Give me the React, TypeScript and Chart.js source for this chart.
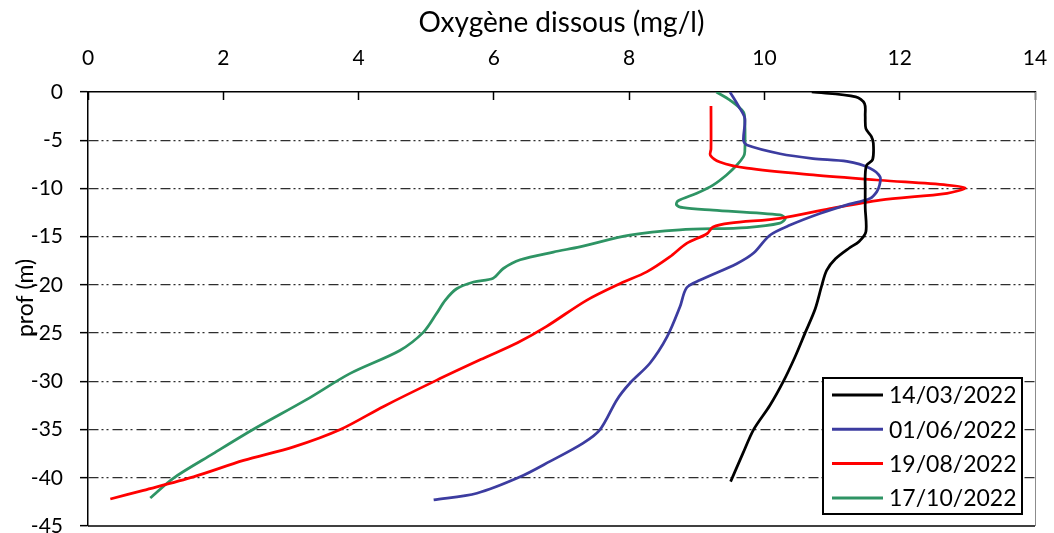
import React, { useEffect, useRef } from "react";
import { Chart, registerables } from "chart.js";

Chart.register(...registerables);

const seriesLabels = ["14/03/2022", "01/06/2022", "19/08/2022", "17/10/2022"];
const seriesColors = ["#000000", "#3c3ca0", "#ff0000", "#2e9464"];

const xTicksMin = 0;
const xTicksMax = 14;
const xStep = 2;
const yMin = -45;
const yMax = 0;
const yStep = 5;

const xTitle = "Oxygène dissous (mg/l)";
const yTitle = "prof (m)";

// 14/03/2022
const o2Mar = [10.7, 11.35, 11.48, 11.49, 11.5, 11.58, 11.61, 11.6, 11.51, 11.49, 11.49, 11.49, 11.5, 11.4, 11.25, 11.05, 10.92, 10.85, 10.75, 10.6, 10.45, 10.28, 10.08, 9.84, 9.68, 9.5];
const depthMar = [0, -0.5, -1.2, -2.5, -3.8, -4.6, -5.3, -7.0, -7.6, -8.6, -10, -12, -14.5, -15.5, -16.2, -17.3, -18.5, -20, -22.5, -25, -27.5, -30, -32.5, -35, -37.5, -40.4];

// 01/06/2022
const o2Jun = [9.49, 9.62, 9.71, 9.69, 9.74, 10.23, 10.72, 11.22, 11.56, 11.71, 11.7, 11.66, 11.56, 11.22, 10.82, 10.38, 10.08, 9.84, 9.59, 9.05, 8.85, 8.75, 8.56, 8.31, 8.01, 7.82, 7.57, 7.32, 6.83, 6.39, 5.75, 5.11];
const depthJun = [0, -1.5, -2.75, -5.0, -5.5, -6.4, -6.9, -7.2, -7.9, -8.8, -9.7, -10.35, -11.05, -11.7, -12.6, -13.8, -14.85, -16.7, -17.8, -19.5, -20.3, -22.3, -25.4, -28.1, -30.2, -31.9, -35.0, -36.4, -38.3, -39.9, -41.6, -42.3];

// 19/08/2022
const o2Aug = [9.21, 9.21, 9.2, 9.34, 9.74, 10.72, 11.71, 12.7, 12.97, 12.7, 11.71, 10.97, 10.23, 9.49, 9.24, 9.15, 8.85, 8.6, 8.26, 7.87, 7.37, 6.78, 6.35, 5.85, 5.15, 4.37, 3.73, 3.04, 2.3, 1.56, 0.82, 0.33];
const depthAug = [-1.45, -5.9, -6.55, -7.25, -7.9, -8.6, -9.15, -9.65, -9.95, -10.5, -11.2, -12.1, -13.1, -13.6, -14.0, -14.7, -15.7, -17.1, -18.65, -19.85, -21.6, -24.3, -26.0, -27.6, -29.9, -32.6, -35.0, -36.8, -38.2, -39.9, -41.3, -42.2];

// 17/10/2022
const o2Oct = [9.29, 9.49, 9.69, 9.71, 9.71, 9.69, 9.59, 9.44, 9.24, 9.0, 8.72, 8.7, 8.8, 9.24, 10.23, 10.31, 10.23, 9.74, 8.75, 8.01, 7.27, 6.88, 6.39, 6.14, 5.99, 5.7, 5.45, 5.28, 5.15, 4.96, 4.61, 3.87, 3.23, 2.44, 1.85, 1.26, 0.92];
const depthOct = [0, -0.85, -2.07, -3.1, -6.2, -6.7, -7.6, -8.6, -9.65, -10.5, -11.3, -11.7, -12.0, -12.25, -12.75, -13.1, -13.6, -14.05, -14.3, -14.85, -16.05, -16.6, -17.4, -18.3, -19.3, -19.7, -20.4, -21.6, -23.0, -24.9, -26.8, -29.2, -31.9, -35.0, -37.5, -40.05, -42.1];

const o2Series = [o2Mar, o2Jun, o2Aug, o2Oct];
const depthSeries = [depthMar, depthJun, depthAug, depthOct];

const FONT = "Lato, 'Noto Sans', sans-serif";

const framePlugin = {
  id: "frame",
  afterDraw(chart: any) {
    const { ctx, chartArea } = chart;
    ctx.save();
    // bottom border
    ctx.strokeStyle = "#000000";
    ctx.lineWidth = 1.5;
    ctx.beginPath();
    ctx.moveTo(chartArea.left, chartArea.bottom);
    ctx.lineTo(chartArea.right, chartArea.bottom);
    ctx.stroke();
    // right border
    ctx.strokeStyle = "#8c8c8c";
    ctx.lineWidth = 1;
    ctx.beginPath();
    ctx.moveTo(chartArea.right + 0.5, chartArea.top);
    ctx.lineTo(chartArea.right + 0.5, chartArea.bottom);
    ctx.stroke();

    // y axis title
    ctx.save();
    ctx.translate(26, 298);
    ctx.rotate(-Math.PI / 2);
    ctx.font = `23px ${FONT}`;
    ctx.fillStyle = "#000000";
    ctx.textAlign = "center";
    ctx.textBaseline = "middle";
    ctx.fillText(yTitle, 0, 0);
    ctx.restore();

    // legend box
    const bx = chartArea.right - 212;
    const by = chartArea.bottom - 148;
    const bw = 199;
    const bh = 136;
    ctx.fillStyle = "#ffffff";
    ctx.fillRect(bx, by, bw, bh);
    ctx.strokeStyle = "#000000";
    ctx.lineWidth = 2;
    ctx.strokeRect(bx, by, bw, bh);
    ctx.font = `23px ${FONT}`;
    ctx.textBaseline = "middle";
    ctx.textAlign = "left";
    chart.data.datasets.forEach((ds: any, i: number) => {
      const cy = by + 17 + i * 34.3;
      ctx.strokeStyle = ds.borderColor;
      ctx.lineWidth = 3;
      ctx.beginPath();
      ctx.moveTo(bx + 9, cy);
      ctx.lineTo(bx + 60, cy);
      ctx.stroke();
      ctx.fillStyle = "#000000";
      ctx.fillText(ds.label, bx + 66, cy + 1);
    });
    ctx.restore();
  },
};

export default function App() {
  const canvasRef = useRef<HTMLCanvasElement | null>(null);

  useEffect(() => {
    if (!canvasRef.current) return;
    const datasets = seriesLabels.map((label, i) => ({
      label,
      data: o2Series[i].map((x, j) => ({ x, y: depthSeries[i][j] })),
      borderColor: seriesColors[i],
      backgroundColor: seriesColors[i],
      borderWidth: 2.75,
      showLine: true,
      pointRadius: 0,
      tension: 0.3,
      fill: false,
    }));

    const chart = new Chart(canvasRef.current, {
      type: "scatter",
      data: { datasets },
      options: {
        animation: false,
        responsive: false,
        layout: { padding: { top: 0, left: 0, right: 19, bottom: 7 } },
        plugins: {
          legend: { display: false },
          tooltip: { enabled: false },
        },
        scales: {
          x: {
            type: "linear",
            position: "top",
            min: xTicksMin,
            max: xTicksMax,
            ticks: {
              stepSize: xStep,
              padding: 29,
              color: "#000000",
              font: { family: FONT, size: 21 },
            },
            grid: {
              drawOnChartArea: false,
              drawTicks: true,
              tickLength: -8,
              tickColor: "#000000",
              tickWidth: 1.5,
            },
            border: { display: true, color: "#000000", width: 1.5 },
            title: {
              display: true,
              text: xTitle,
              color: "#000000",
              font: { family: FONT, size: 28 },
              padding: { top: 6, bottom: 0 },
            },
            afterFit: (scale: any) => {
              scale.height = 92;
              scale.paddingLeft = 0;
              scale.paddingRight = 0;
            },
          },
          y: {
            type: "linear",
            min: yMin,
            max: yMax,
            ticks: {
              stepSize: yStep,
              padding: 17,
              color: "#000000",
              font: { family: FONT, size: 21 },
            },
            grid: {
              color: (ctx: any) =>
                ctx.tick && (ctx.tick.value === 0 || ctx.tick.value === -45) ? "rgba(0,0,0,0)" : "#2e2e2e",
              lineWidth: 1.3,
              drawTicks: true,
              tickLength: 8,
              tickColor: "#000000",
              tickWidth: 1.5,
              tickBorderDash: [],
            },
            border: { display: true, color: "#000000", width: 1.5, dash: [10, 3, 2, 3, 2, 4] },
            title: { display: false },
            afterFit: (scale: any) => {
              scale.width = 88;
              scale.paddingTop = 0;
              scale.paddingBottom = 0;
            },
          },
        },
      },
      plugins: [framePlugin],
    });
    return () => chart.destroy();
  }, []);

  return (
    <div style={{ position: "fixed", left: 0, top: 0, width: 1054, height: 533, background: "#ffffff" }}>
      <canvas ref={canvasRef} width={1054} height={533} style={{ width: 1054, height: 533, display: "block" }} />
    </div>
  );
}
